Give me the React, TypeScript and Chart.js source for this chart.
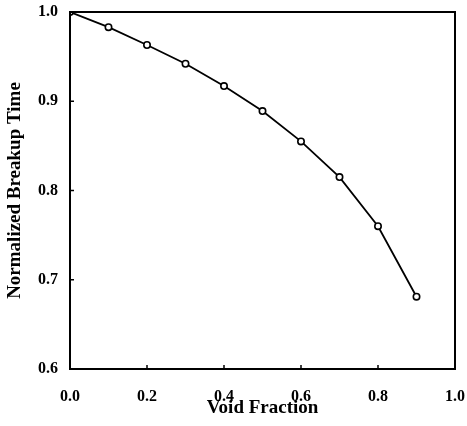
import React, { useEffect, useRef } from "react";
import { Chart, registerables } from "chart.js";

Chart.register(...registerables);

const voidFraction = [0.0, 0.1, 0.2, 0.3, 0.4, 0.5, 0.6, 0.7, 0.8, 0.9];
const breakupTime = [1.0, 0.983, 0.963, 0.942, 0.917, 0.889, 0.855, 0.815, 0.76, 0.681];
const xTitle = "Void Fraction";
const yTitle = "Normalized Breakup Time";

const boxPlugin = {
  id: "boxPlugin",
  afterDraw(chart: any) {
    const { ctx, chartArea } = chart;
    const { left, right, top, bottom } = chartArea;
    const xs = chart.scales.x;
    const ys = chart.scales.y;
    ctx.save();
    ctx.strokeStyle = "#000";
    ctx.lineWidth = 2;
    ctx.strokeRect(left, top, right - left, bottom - top);
    ctx.lineWidth = 1.5;
    ctx.beginPath();
    xs.ticks.forEach((t: any) => {
      const px = xs.getPixelForValue(t.value);
      ctx.moveTo(px, bottom);
      ctx.lineTo(px, bottom - 4);
    });
    ys.ticks.forEach((t: any) => {
      const py = ys.getPixelForValue(t.value);
      ctx.moveTo(left, py);
      ctx.lineTo(left + 4, py);
    });
    ctx.stroke();
    ctx.restore();
  },
};

export default function App() {
  const ref = useRef<HTMLCanvasElement>(null);
  useEffect(() => {
    if (!ref.current) return;
    const chart = new Chart(ref.current, {
      type: "scatter",
      data: {
        datasets: [
          {
            data: voidFraction.map((x, i) => ({ x, y: breakupTime[i] })),
            showLine: true,
            borderColor: "#000",
            borderWidth: 1.8,
            pointRadius: 3.2,
            pointBorderWidth: 1.6,
            pointBackgroundColor: "#fff",
            pointBorderColor: "#000",
          },
        ],
      },
      options: {
        animation: false,
        responsive: false,
        maintainAspectRatio: false,
        layout: { padding: { left: 0, top: 12, right: 12, bottom: 0 } },
        plugins: { legend: { display: false }, tooltip: { enabled: false } },
        scales: {
          x: {
            type: "linear",
            min: 0,
            max: 1,
            afterFit: (s: any) => {
              s.height = 57;
              s.paddingLeft = 0;
              s.paddingRight = 0;
            },
            grid: { display: false, drawTicks: false },
            border: { display: false },
            ticks: {
              stepSize: 0.2,
              padding: 18,
              color: "#000",
              font: { family: "Liberation Serif", size: 16, weight: "bold" },
              callback: (v: any) => Number(v).toFixed(1),
            },
            title: {
              display: true,
              text: xTitle,
              color: "#000",
              padding: { top: 0, bottom: 7 },
              font: { family: "Liberation Serif", size: 19, weight: "bold" },
            },
          },
          y: {
            type: "linear",
            min: 0.6,
            max: 1.0,
            afterFit: (s: any) => {
              s.width = 70;
              s.paddingTop = 0;
              s.paddingBottom = 0;
            },
            grid: { display: false, drawTicks: false },
            border: { display: false },
            ticks: {
              stepSize: 0.1,
              padding: 12,
              color: "#000",
              font: { family: "Liberation Serif", size: 16, weight: "bold" },
              callback: (v: any) => Number(v).toFixed(1),
            },
            title: {
              display: true,
              text: yTitle,
              color: "#000",
              padding: { top: 4, bottom: 0 },
              font: { family: "Liberation Serif", size: 19, weight: "bold" },
            },
          },
        },
      },
      plugins: [boxPlugin],
    });
    return () => chart.destroy();
  }, []);
  return (
    <div style={{ position: "fixed", left: 0, top: 0, width: 467, height: 426, background: "#fff" }}>
      <canvas ref={ref} width={467} height={426} style={{ width: 467, height: 426 }} />
    </div>
  );
}
